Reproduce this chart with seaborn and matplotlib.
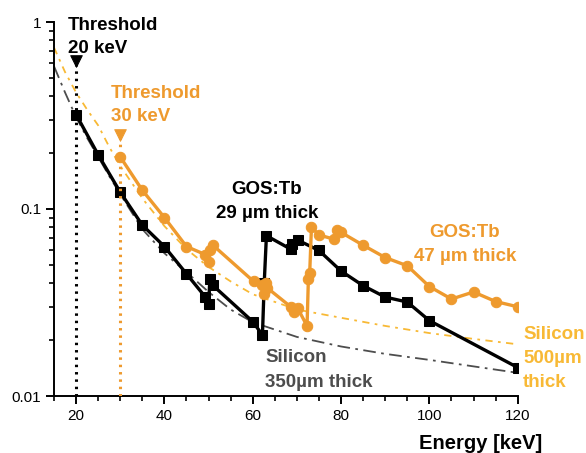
import numpy as np
import pandas as pd
import matplotlib
matplotlib.use("Agg")
import matplotlib.pyplot as plt
import seaborn as sns
from matplotlib.ticker import MultipleLocator, LogLocator, FixedLocator, FixedFormatter, NullFormatter

# ---------------- data ----------------
energy_gos29 = [20, 25, 30, 35, 40, 45, 49.2, 50.0, 50.3, 51.0, 60, 62.2, 62.6, 63.1,
                68.6, 69.0, 70.3, 75, 80, 85, 90, 95, 100, 120]
eff_gos29 = [0.32, 0.195, 0.123, 0.082, 0.063, 0.045, 0.034, 0.031, 0.042, 0.039, 0.025,
             0.0212, 0.040, 0.072, 0.061, 0.065, 0.068, 0.060, 0.0466, 0.0389, 0.0338,
             0.0318, 0.0253, 0.0142]

energy_gos47 = [30, 35, 40, 45, 49.3, 50.0, 50.4, 51.0, 60.2, 62.1, 62.5, 62.9, 63.2,
                68.6, 69.3, 70.2, 72.3, 72.6, 72.9, 73.3, 75, 78.4, 79.1, 80, 85, 90,
                95, 100, 105, 110, 115, 120]
eff_gos47 = [0.19, 0.126, 0.090, 0.063, 0.057, 0.052, 0.060, 0.064, 0.041, 0.039, 0.035,
             0.040, 0.038, 0.030, 0.028, 0.0294, 0.0237, 0.042, 0.0455, 0.080, 0.0726,
             0.069, 0.0775, 0.075, 0.064, 0.055, 0.0497, 0.0385, 0.033, 0.036, 0.032, 0.030]

energy_si = [15, 17.5, 20, 22.5, 25, 27.5, 30, 35, 40, 45, 50, 55, 60, 70, 80, 90, 100, 110, 120]
eff_si350 = [0.58, 0.42, 0.31, 0.24, 0.19, 0.15, 0.12, 0.078, 0.058, 0.046, 0.036, 0.029,
             0.0248, 0.0207, 0.0184, 0.0168, 0.0156, 0.0144, 0.0133]
eff_si500 = [0.73, 0.54, 0.42, 0.34, 0.28, 0.215, 0.17, 0.114, 0.081, 0.061, 0.049, 0.041,
             0.035, 0.029, 0.0262, 0.0237, 0.0217, 0.0202, 0.0189]

threshold_black_x = [20, 20]
threshold_black_y = [0.01, 0.62]
threshold_orange_x = [30, 30]
threshold_orange_y = [0.01, 0.25]

xticks = [20, 40, 60, 80, 100, 120]
yticks = [0.01, 0.1, 1]
ytick_labels = ["0.01", "0.1", "1"]

# ---------------- style ----------------
sns.set_theme(style="ticks")
plt.rcParams['font.family'] = ['Liberation Sans', 'DejaVu Sans']

BLACK = "#000000"
ORANGE = "#EE9A2E"
LIGHT_ORANGE = "#F8B935"
GRAY = "#4D4D4D"

W, H = 586, 453
fig = plt.figure(figsize=(W / 100, H / 100), dpi=100)
ax = fig.add_axes([54 / W, 1 - 396 / H, (517.7 - 54) / W, (396 - 22) / H])

# silicon curves
sns.lineplot(x=energy_si, y=eff_si350, ax=ax, color=GRAY, lw=1.3,
             linestyle=(0, (7, 3, 1.5, 3)), sort=False, estimator=None, zorder=2)
sns.lineplot(x=energy_si, y=eff_si500, ax=ax, color=LIGHT_ORANGE, lw=1.3,
             linestyle=(0, (4, 3, 1.5, 3)), sort=False, estimator=None, zorder=2)

# threshold lines
sns.lineplot(x=threshold_black_x, y=threshold_black_y, ax=ax, color=BLACK, lw=2.2,
             linestyle=(0, (0.8, 1.6)), sort=False, estimator=None, zorder=3)
sns.scatterplot(x=[threshold_black_x[1]], y=[threshold_black_y[1]], ax=ax, marker="v",
                color=BLACK, s=70, edgecolor=BLACK, zorder=6)

# GOS:Tb 29 um (black)
sns.lineplot(x=energy_gos29, y=eff_gos29, ax=ax, color=BLACK, lw=2.4, marker="s",
             markersize=6.5, markeredgecolor=BLACK, sort=False, estimator=None, zorder=4)

# orange threshold (drawn over black squares as in reference)
sns.lineplot(x=threshold_orange_x, y=threshold_orange_y, ax=ax, color=ORANGE, lw=2.2,
             linestyle=(0, (0.8, 1.6)), sort=False, estimator=None, zorder=4.5)
sns.scatterplot(x=[threshold_orange_x[1]], y=[threshold_orange_y[1]], ax=ax, marker="v",
                color=ORANGE, s=70, edgecolor=ORANGE, zorder=6)

# GOS:Tb 47 um (orange)
sns.lineplot(x=energy_gos47, y=eff_gos47, ax=ax, color=ORANGE, lw=2.4, marker="o",
             markersize=7.5, markeredgecolor=ORANGE, sort=False, estimator=None, zorder=5)

# axes
ax.set_yscale("log")
ax.set_xlim(15, 120)
ax.set_ylim(0.01, 1)
ax.xaxis.set_major_locator(FixedLocator(xticks))
ax.xaxis.set_minor_locator(MultipleLocator(5))
ax.yaxis.set_major_locator(FixedLocator(yticks))
ax.yaxis.set_major_formatter(FixedFormatter(ytick_labels))
ax.yaxis.set_minor_locator(LogLocator(base=10, subs=np.arange(2, 10)))
ax.yaxis.set_minor_formatter(NullFormatter())
ax.set_xlabel("")
ax.set_ylabel("")
for s in ["top", "right"]:
    ax.spines[s].set_visible(False)
for s in ["left", "bottom"]:
    ax.spines[s].set_linewidth(1.4)
    ax.spines[s].set_color(BLACK)
ax.tick_params(which="major", length=6, width=1.4, color=BLACK, labelsize=11,
               labelcolor=BLACK, direction="out", pad=3)
ax.tick_params(which="minor", length=3.5, width=1.2, color=BLACK, direction="out")
ax.set_facecolor("white")


def label(x, y, s, color, size=13.5, ha="left", weight="bold"):
    fig.text(x / W, 1 - y / H, s, color=color, fontsize=size, ha=ha, va="baseline",
             fontweight=weight)


label(68, 30, "Threshold", BLACK)
label(68, 53, "20 keV", BLACK)
label(111, 98, "Threshold", ORANGE)
label(111, 121, "30 keV", ORANGE)
label(267, 194, "GOS:Tb", BLACK, ha="center")
label(267, 218, "29 µm thick", BLACK, ha="center")
label(465, 237, "GOS:Tb", ORANGE, ha="center")
label(465, 261, "47 µm thick", ORANGE, ha="center")
label(265, 362, "Silicon", GRAY)
label(265, 387, "350µm thick", GRAY)
label(523, 339, "Silicon", LIGHT_ORANGE)
label(523, 363, "500µm", LIGHT_ORANGE)
label(523, 387, "thick", LIGHT_ORANGE)
label(542, 449, "Energy [keV]", BLACK, size=14.5, ha="right")

fig.savefig("out.png", dpi=100, facecolor="white")
